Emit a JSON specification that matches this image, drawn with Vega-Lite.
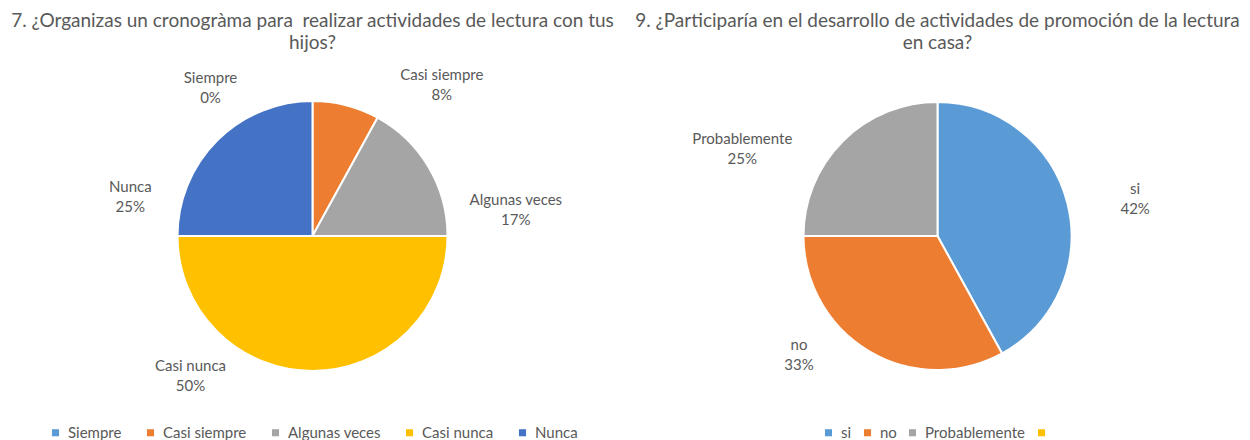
{
  "$schema": "https://vega.github.io/schema/vega-lite/v6.json",
  "padding": {"left": 0, "right": 0, "top": 12, "bottom": 0},
  "spacing": 0,
  "config": {
    "view": {"stroke": null},
    "font": "Lato",
    "title": {"fontSize": 19, "fontWeight": "normal", "color": "#595959", "lineHeight": 22, "offset": 13},
    "legend": {"orient": "bottom", "direction": "horizontal", "labelFontSize": 15, "labelColor": "#595959", "symbolType": "square", "symbolSize": 50, "symbolStrokeWidth": 0, "labelOffset": 5, "offset": 19, "layout": {"bottom": {"anchor": "middle"}}}
  },
  "resolve": {"scale": {"color": "independent", "theta": "independent"}, "legend": {"color": "independent"}},
  "hconcat": [
    {
      "width": 625,
      "height": 340,
      "title": {"text": ["7. ¿Organizas un cronogràma para \u00a0realizar actividades de lectura con tus", "hijos?"]},
      "data": {"values": [
        {"cat": "Siempre", "pct": 0, "i": 1, "lab": "Siempre\n0%"},
        {"cat": "Casi siempre", "pct": 8, "i": 2, "lab": "Casi siempre\n8%"},
        {"cat": "Algunas veces", "pct": 17, "i": 3, "lab": "Algunas veces\n17%"},
        {"cat": "Casi nunca", "pct": 50, "i": 4, "lab": "Casi nunca\n50%"},
        {"cat": "Nunca", "pct": 25, "i": 5, "lab": "Nunca\n25%"}
      ]},
      "encoding": {
        "theta": {"field": "pct", "type": "quantitative", "stack": true},
        "order": {"field": "i", "type": "quantitative"}
      },
      "layer": [
        {
          "mark": {"type": "arc", "outerRadius": 135, "stroke": "white", "strokeWidth": 2},
          "encoding": {
            "color": {"field": "cat", "type": "nominal", "title": null,
              "scale": {"domain": ["Siempre", "Casi siempre", "Algunas veces", "Casi nunca", "Nunca"], "range": ["#5B9BD5", "#ED7D31", "#A5A5A5", "#FFC000", "#4472C4"]},
              "legend": {"columnPadding": 21}}
          }
        },
        {
          "mark": {"type": "text", "radius": 170, "fontSize": 15, "color": "#595959", "lineBreak": "\n", "lineHeight": 20, "align": "center", "baseline": "middle",
            "dx": {"expr": "datum.cat == 'Siempre' ? -102 : datum.cat == 'Casi siempre' ? 87 : datum.cat == 'Algunas veces' ? 57 : datum.cat == 'Casi nunca' ? -122 : -62"},
            "dy": {"expr": "datum.cat == 'Siempre' ? 12 : datum.cat == 'Casi siempre' ? 4 : datum.cat == 'Algunas veces' ? 51 : datum.cat == 'Casi nunca' ? -40 : 71"}},
          "encoding": {"text": {"field": "lab"}}
        }
      ]
    },
    {
      "width": 625,
      "height": 340,
      "title": {"text": ["9. ¿Participaría en el desarrollo de actividades de promoción de la lectura", "en casa?"]},
      "data": {"values": [
        {"cat": "si", "pct": 42, "i": 1, "lab": "si\n42%"},
        {"cat": "no", "pct": 33, "i": 2, "lab": "no\n33%"},
        {"cat": "Probablemente", "pct": 25, "i": 3, "lab": "Probablemente\n25%"}
      ]},
      "encoding": {
        "theta": {"field": "pct", "type": "quantitative", "stack": true},
        "order": {"field": "i", "type": "quantitative"}
      },
      "layer": [
        {
          "mark": {"type": "arc", "outerRadius": 134, "stroke": "white", "strokeWidth": 2},
          "encoding": {
            "color": {"field": "cat", "type": "nominal", "title": null,
              "scale": {"domain": ["si", "no", "Probablemente", " "], "range": ["#5B9BD5", "#ED7D31", "#A5A5A5", "#FFC000"]},
              "legend": {"columnPadding": 8}}
          }
        },
        {
          "mark": {"type": "text", "radius": 170, "fontSize": 15, "color": "#595959", "lineBreak": "\n", "lineHeight": 20, "align": "center", "baseline": "middle",
            "dx": {"expr": "datum.cat == 'si' ? 33 : datum.cat == 'no' ? -52 : -75"},
            "dy": {"expr": "datum.cat == 'si' ? -5 : datum.cat == 'no' ? -37 : 23"}},
          "encoding": {"text": {"field": "lab"}}
        }
      ]
    }
  ]
}
